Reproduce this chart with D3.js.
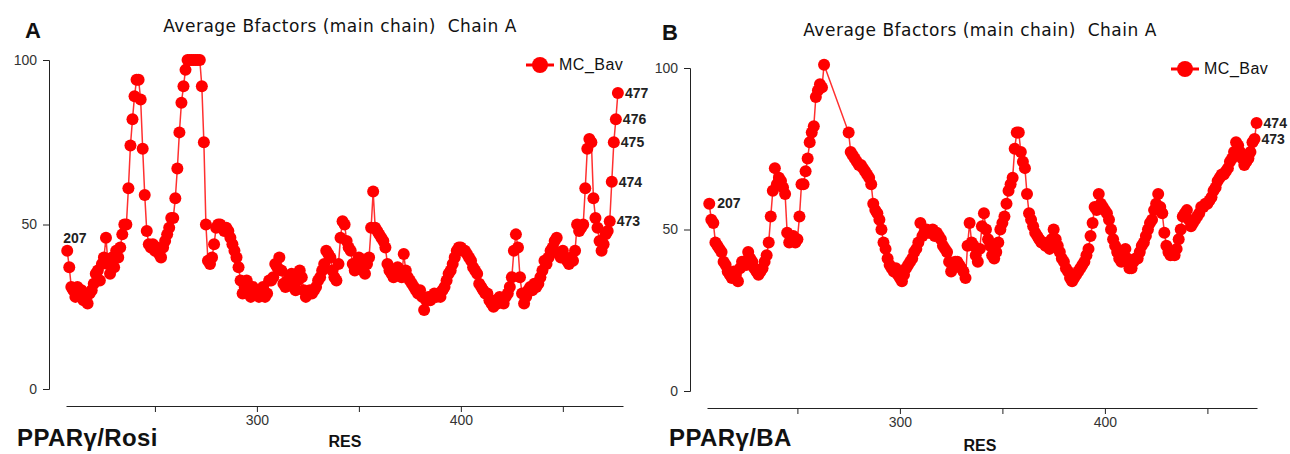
<!DOCTYPE html>
<html>
<head>
<meta charset="utf-8">
<script src="https://cdn.jsdelivr.net/npm/d3@7"></script>
<style>
  body { margin: 0; background: #fff; }
  svg { display: block; }
  .tick text { font-family: "Liberation Sans Narrow", "Liberation Sans", sans-serif; font-size: 14px; fill: #333; }
  .domain, .tick line { stroke: #222; }
</style>
</head>
<body>
<div id="chart"></div>
<script>
// Average main-chain B-factors per residue (chain A), two complexes

const firstRes = 207;

// PPARg / Rosi, residues 207..477
const bavRosi = [
  42, 37, 31, 30, 28, 31, 29, 30, 27, 27,
  26, 29, 30, 32, 35, 36, 33, 38, 40, 46,
  38, 35, 40, 37, 42, 40, 43, 47, 50, 50,
  61, 74, 82, 89, 94, 94, 88, 73, 59, 48,
  44, 43, 44, 42, 43, 41, 40, 43, 45, 47,
  49, 52, 52, 58, 67, 78, 87, 92, 97, 100,
  100, 100, 100, 100, 100, 100, 92, 75, 50, 39,
  38, 40, 44, 49, 50, 50, 49, 48, 49, 48,
  46, 44, 42, 40, 37, 33, 29, 31, 33, 30,
  28, 31, 29, 30, 28, 30, 31, 28, 29, 33,
  33, 34, 38, 37, 40, 36, 32, 31, 33, 34,
  35, 31, 30, 33, 36, 34, 30, 28, 29, 30,
  29, 30, 31, 33, 34, 36, 38, 42, 41,
  40, 36, 34, 33, 38, 46, 51, 50, 45, 43,
  42, 38, 36, 37, 40, 38, 36, 35, 38, 40,
  49, 60, 49, 48, 47, 46, 45, 43, 38, 36,
  35, 34, 35, 37, 36, 34, 41, 36, 34, 33,
  32, 31, 30, 29, 30, 28, 24, 27, 28, 27,
  28, 29, 28, 29, 28, 30, 31, 33, 35, 36,
  38, 40, 42, 43, 43, 42, 42, 41, 40, 39,
  37, 36, 35, 32, 31, 30, 29, 29, 27, 26,
  25, 27, 26, 28, 27, 26, 28, 29, 31, 34,
  42, 47, 43, 34, 29, 26, 28, 30, 31, 30,
  32, 31, 32, 34, 36, 39, 38, 40, 42, 43,
  45, 46, 41, 40, 42, 40, 39, 38, 40, 39,
  42, 50, 48, 49, 50, 61, 73, 76, 75, 58,
  52, 49, 45, 42, 44, 47, 48, 51, 63, 75, 82, 90
];

// PPARg / BA, residues 207..474 (264-274 not modelled)
const bavBA = [
  58, 53, 52, 46, 45, 44, 43, 40, 39, 37,
  36, 35, 37, 36, 34, 38, 40, 40, 39, 43,
  41, 40, 38, 37, 36, 37, 38, 40, 42, 46,
  54, 62, 69, 64, 66, 65, 63, 61, 49, 46,
  47, 48, 46, 47, 54, 64, 64, 68, 72, 77,
  80, 82, 91, 93, 95, 94, 101,
  null, null, null, null, null, null, null, null, null, null, null,
  80, 74, 73, 72, 71, 70, 70, 69, 68, 67,
  66, 64, 58, 56, 55, 53, 50, 46, 44, 41,
  39, 38, 37, 38, 36, 35, 34, 36, 38, 39,
  40, 41, 43, 44, 46, 52, 48, 49, 50, 49,
  49, 50, 48, 49, 48, 47, 45, 44, 43, 40,
  37, 39, 40, 40, 39, 38, 37, 35, 45, 52,
  46, 45, 42, 40, 44, 51, 55, 50, 47, 45,
  42, 41, 43, 46, 50, 52, 54, 58, 62, 64,
  66, 75, 80, 80, 74, 71, 69, 61, 55, 53,
  51, 49, 48, 47, 46, 46, 45, 45, 44, 47,
  50, 47, 45, 43, 41, 40, 38, 37, 35, 34,
  35, 36, 37, 38, 39, 40, 42, 44, 48, 52,
  57, 56, 61, 58, 57, 56, 55, 53, 50, 47,
  45, 43, 41, 40, 42, 44, 41, 38, 38, 40,
  41, 41, 43, 45, 46, 48, 50, 52, 53, 56,
  58, 61, 57, 55, 49, 45, 43, 42, 43, 42,
  44, 47, 50, 54, 55, 56, 53, 51, 52, 53,
  54, 55, 57, 57, 58, 58, 59, 60, 62, 63,
  65, 66, 67, 67, 68, 69, 71, 72, 74, 77,
  76, 74, 72, 70, 71, 72, 74, 77, 78, 83
];

const yTicks = [0, 50, 100];
const xTicks = [250, 300, 350, 400, 450];
const xTickLabels = [300, 400];
const labelsRosi = [207, 473, 474, 475, 476, 477];
const labelsBA = [207, 473, 474];
const chartTitle = 'Average Bfactors (main chain)  Chain A';
const seriesName = 'MC_Bav';
const xName = 'RES';

const svg = d3.select('#chart').append('svg')
    .attr('width', 1290)
    .attr('height', 454)
    .style('background', '#fff');

function drawPanel(p) {
    const g = svg.append('g');

    const data = p.values
        .map((v, i) => ({res: firstRes + i, v: v}))
        .filter(d => d.v != null);

    const x = d3.scaleLinear().domain(p.xDomain).range(p.xRange);
    const y = d3.scaleLinear().domain([0, 100]).range([p.yBottom, p.yTop]);

    // y axis (sits left of the data area)
    g.append('g')
        .attr('transform', `translate(${p.yAxisX},0)`)
        .call(d3.axisLeft(y).tickValues(yTicks).tickSize(6).tickPadding(6));

    // x axis, separate line under the plot
    g.append('g')
        .attr('transform', `translate(0,${p.xAxisY})`)
        .call(d3.axisBottom(x)
            .tickValues(xTicks)
            .tickSizeOuter(0)
            .tickPadding(3)
            .tickFormat(d => xTickLabels.includes(d) ? d : ''));

    // line + markers
    const line = d3.line().x(d => x(d.res)).y(d => y(d.v));
    g.append('path')
        .datum(data)
        .attr('d', line)
        .attr('fill', 'none')
        .attr('stroke', '#ff3030')
        .attr('stroke-width', 1.5);

    g.selectAll('.pt')
        .data(data)
        .enter()
        .append('circle')
        .attr('class', 'pt')
        .attr('cx', d => x(d.res))
        .attr('cy', d => y(d.v))
        .attr('r', 6)
        .attr('fill', '#ff0000');

    // residue labels
    g.selectAll('.rl')
        .data(data.filter(d => p.labels.includes(d.res)))
        .enter()
        .append('text')
        .attr('class', 'rl')
        .attr('x', d => x(d.res) + (d.res === firstRes ? p.firstDx : 7))
        .attr('y', d => y(d.v) + (d.res === firstRes ? p.firstDy : 5))
        .style('font-family', '"Liberation Sans", sans-serif')
        .style('font-size', '14px')
        .style('font-weight', 'bold')
        .attr('fill', '#222')
        .text(d => d.res);

    // panel letter
    g.append('text')
        .attr('x', p.letterX).attr('y', p.letterY)
        .style('font-family', '"Liberation Sans", sans-serif')
        .style('font-size', '22px')
        .style('font-weight', 'bold')
        .attr('fill', '#111')
        .text(p.letter);

    // title
    g.append('text')
        .attr('x', p.titleX).attr('y', p.titleY)
        .attr('text-anchor', 'middle')
        .style('font-family', '"DejaVu Sans", sans-serif')
        .style('font-size', '17px')
        .style('letter-spacing', '0.5px')
        .style('white-space', 'pre')
        .attr('fill', '#111')
        .text(chartTitle);

    // legend
    const lg = g.append('g').attr('transform', `translate(${p.legendX},${p.legendY})`);
    lg.append('line')
        .attr('x1', -14).attr('x2', 14)
        .attr('stroke', '#ff0000').attr('stroke-width', 3);
    lg.append('circle').attr('r', 8).attr('fill', '#ff0000');
    lg.append('text')
        .attr('x', 19).attr('y', 5)
        .style('font-family', '"Liberation Sans", sans-serif')
        .style('font-size', '16px')
        .style('letter-spacing', '0.5px')
        .attr('fill', '#111')
        .text(seriesName);

    // axis title + complex name
    g.append('text')
        .attr('x', p.resX).attr('y', p.resY)
        .attr('text-anchor', 'middle')
        .style('font-family', '"Liberation Sans Narrow", "Liberation Sans", sans-serif')
        .style('font-size', '16px')
        .style('font-weight', 'bold')
        .attr('fill', '#111')
        .text(xName);

    g.append('text')
        .attr('x', p.nameX).attr('y', p.nameY)
        .style('font-family', '"Liberation Sans", sans-serif')
        .style('font-size', '24px')
        .style('font-weight', 'bold')
        .style('letter-spacing', '0.4px')
        .attr('fill', '#111')
        .text(p.name);
}

drawPanel({
    values: bavRosi, labels: labelsRosi,
    xDomain: [206.4, 479.5], xRange: [66, 623],
    yTop: 60, yBottom: 389, yAxisX: 49, xAxisY: 406,
    firstDx: -4, firstDy: -8,
    letter: 'A', letterX: 25, letterY: 38,
    titleX: 340, titleY: 32,
    legendX: 540, legendY: 65,
    resX: 345, resY: 447,
    name: 'PPARγ/Rosi', nameX: 17, nameY: 446
});

drawPanel({
    values: bavBA, labels: labelsBA,
    xDomain: [205.9, 474.2], xRange: [707, 1257],
    yTop: 68, yBottom: 391, yAxisX: 690, xAxisY: 408,
    firstDx: 8, firstDy: 4,
    letter: 'B', letterX: 662, letterY: 40,
    titleX: 980, titleY: 36,
    legendX: 1185, legendY: 69,
    resX: 980, resY: 451,
    name: 'PPARγ/BA', nameX: 669, nameY: 446
});
</script>
</body>
</html>
